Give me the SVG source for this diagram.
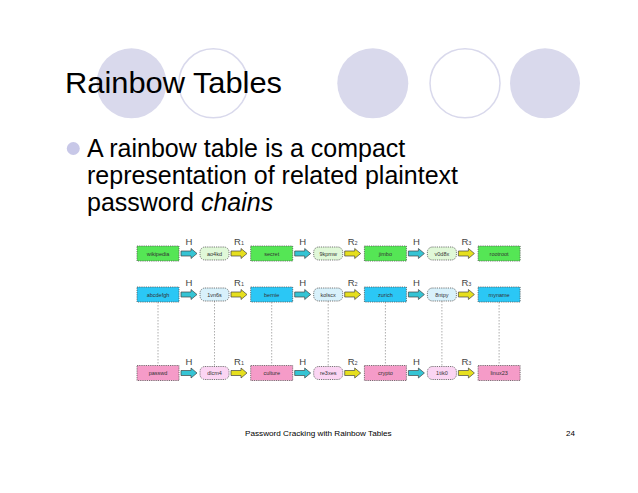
<svg xmlns="http://www.w3.org/2000/svg" xmlns:xlink="http://www.w3.org/1999/xlink" width="638" height="493" viewBox="0 0 638 493">
<style>
.deco{fill:#d9d9ec}
.decoO{fill:none;stroke:#d9d9ec;stroke-width:1.5}
.title{font-family:"Liberation Sans",Arial,sans-serif;font-size:29.5px;fill:#000}
.body{font-family:"Liberation Sans",Arial,sans-serif;font-size:25px;fill:#000}
.foot{font-family:"Liberation Sans",Arial,sans-serif;font-size:8px;fill:#000}
.box{stroke:#555;stroke-width:0.8;stroke-dasharray:1.2 1}
.g{fill:#55e655}.gl{fill:#e0f8d8}
.c{fill:#2bc7f5}.cl{fill:#d8f1fb}
.p{fill:#f59bc8}.pl{fill:#fbd5f3}
.bt{font-family:"Liberation Sans",Arial,sans-serif;font-size:5.5px;fill:#333;text-anchor:middle}
.lb{font-family:"Liberation Sans",Arial,sans-serif;font-size:9.5px;fill:#444;text-anchor:middle}
.sub{font-size:5.5px}
.ac{fill:#35c4d4;stroke:#444;stroke-width:0.7}
.ay{fill:#e6df1e;stroke:#444;stroke-width:0.7}
.dl{stroke:#999;stroke-width:0.8;stroke-dasharray:1.5 1.5;fill:none}
</style>
<defs>
<path id="arr" d="M0,-2.5 H10 V-5 L16,0 L10,5 V2.5 H0 Z"/>
</defs>
<rect width="638" height="493" fill="#fff"/>
<g id="decoration">
<ellipse class="deco" cx="131.5" cy="83.3" rx="35" ry="35"/>
<ellipse class="decoO" cx="213.3" cy="83.3" rx="34.5" ry="34.5"/>
<ellipse class="deco" cx="372.8" cy="83.3" rx="35.5" ry="35"/>
<ellipse class="decoO" cx="465" cy="83.3" rx="35" ry="34.5"/>
<ellipse class="deco" cx="545" cy="83.3" rx="35" ry="35"/>
</g>
<g id="title"><text class="title" x="65" y="93" textLength="217" lengthAdjust="spacingAndGlyphs">Rainbow Tables</text></g>
<g id="bullet">
<circle cx="73.3" cy="148.5" r="6.5" fill="#c8c8e8"/>
<text class="body" x="87" y="157">A rainbow table is a compact</text>
<text class="body" x="87" y="184">representation of related plaintext</text>
<text class="body" x="87" y="211">password <tspan font-style="italic">chains</tspan></text>
</g>
<g id="connectors">
<line class="dl" x1="158" y1="302" x2="158" y2="365.5"/>
<line class="dl" x1="214.5" y1="301" x2="214.5" y2="366.5"/>
<line class="dl" x1="271.7" y1="302" x2="271.7" y2="365.5"/>
<line class="dl" x1="328.2" y1="301" x2="328.2" y2="366.5"/>
<line class="dl" x1="385.4" y1="302" x2="385.4" y2="365.5"/>
<line class="dl" x1="441.9" y1="301" x2="441.9" y2="366.5"/>
<line class="dl" x1="499.1" y1="302" x2="499.1" y2="365.5"/>
<use href="#arr" class="ac" x="181" y="253.5"/>
<use href="#arr" class="ay" x="231" y="253.5"/>
<use href="#arr" class="ac" x="294.7" y="253.5"/>
<use href="#arr" class="ay" x="344.7" y="253.5"/>
<use href="#arr" class="ac" x="408.4" y="253.5"/>
<use href="#arr" class="ay" x="458.4" y="253.5"/>
<use href="#arr" class="ac" x="181" y="294.5"/>
<use href="#arr" class="ay" x="231" y="294.5"/>
<use href="#arr" class="ac" x="294.7" y="294.5"/>
<use href="#arr" class="ay" x="344.7" y="294.5"/>
<use href="#arr" class="ac" x="408.4" y="294.5"/>
<use href="#arr" class="ay" x="458.4" y="294.5"/>
<use href="#arr" class="ac" x="181" y="373"/>
<use href="#arr" class="ay" x="231" y="373"/>
<use href="#arr" class="ac" x="294.7" y="373"/>
<use href="#arr" class="ay" x="344.7" y="373"/>
<use href="#arr" class="ac" x="408.4" y="373"/>
<use href="#arr" class="ay" x="458.4" y="373"/>
<text class="lb" x="189" y="245">H</text>
<text class="lb" x="239" y="245">R<tspan class="sub">1</tspan></text>
<text class="lb" x="302.7" y="245">H</text>
<text class="lb" x="352.7" y="245">R<tspan class="sub">2</tspan></text>
<text class="lb" x="416.4" y="245">H</text>
<text class="lb" x="466.4" y="245">R<tspan class="sub">3</tspan></text>
<text class="lb" x="189" y="285.5">H</text>
<text class="lb" x="239" y="285.5">R<tspan class="sub">1</tspan></text>
<text class="lb" x="302.7" y="285.5">H</text>
<text class="lb" x="352.7" y="285.5">R<tspan class="sub">2</tspan></text>
<text class="lb" x="416.4" y="285.5">H</text>
<text class="lb" x="466.4" y="285.5">R<tspan class="sub">3</tspan></text>
<text class="lb" x="189" y="364.5">H</text>
<text class="lb" x="239" y="364.5">R<tspan class="sub">1</tspan></text>
<text class="lb" x="302.7" y="364.5">H</text>
<text class="lb" x="352.7" y="364.5">R<tspan class="sub">2</tspan></text>
<text class="lb" x="416.4" y="364.5">H</text>
<text class="lb" x="466.4" y="364.5">R<tspan class="sub">3</tspan></text>
</g>
<g id="row1">
<g id="n-wikipedia"><rect class="box g" x="137" y="246" width="42" height="15"/><text class="bt" x="158" y="255.5">wikipedia</text></g>
<g id="n-ao4kd"><rect class="box gl" x="200" y="247" width="29" height="13" rx="5"/><text class="bt" x="214.5" y="255.5">ao4kd</text></g>
<g id="n-secret"><rect class="box g" x="250.7" y="246" width="42" height="15"/><text class="bt" x="271.7" y="255.5">secret</text></g>
<g id="n-9kpmw"><rect class="box gl" x="313.7" y="247" width="29" height="13" rx="5"/><text class="bt" x="328.2" y="255.5">9kpmw</text></g>
<g id="n-jimbo"><rect class="box g" x="364.4" y="246" width="42" height="15"/><text class="bt" x="385.4" y="255.5">jimbo</text></g>
<g id="n-v0d8x"><rect class="box gl" x="427.4" y="247" width="29" height="13" rx="5"/><text class="bt" x="441.9" y="255.5">v0d8x</text></g>
<g id="n-rootroot"><rect class="box g" x="478.1" y="246" width="42" height="15"/><text class="bt" x="499.1" y="255.5">rootroot</text></g>
</g>
<g id="row2">
<g id="n-abcdefgh"><rect class="box c" x="137" y="287" width="42" height="15"/><text class="bt" x="158" y="296.5">abcdefgh</text></g>
<g id="n-1vn6s"><rect class="box cl" x="200" y="288" width="29" height="13" rx="5"/><text class="bt" x="214.5" y="296.5">1vn6s</text></g>
<g id="n-bernie"><rect class="box c" x="250.7" y="287" width="42" height="15"/><text class="bt" x="271.7" y="296.5">bernie</text></g>
<g id="n-kolscx"><rect class="box cl" x="313.7" y="288" width="29" height="13" rx="5"/><text class="bt" x="328.2" y="296.5">kolscx</text></g>
<g id="n-zurich"><rect class="box c" x="364.4" y="287" width="42" height="15"/><text class="bt" x="385.4" y="296.5">zurich</text></g>
<g id="n-8ntpy"><rect class="box cl" x="427.4" y="288" width="29" height="13" rx="5"/><text class="bt" x="441.9" y="296.5">8ntpy</text></g>
<g id="n-myname"><rect class="box c" x="478.1" y="287" width="42" height="15"/><text class="bt" x="499.1" y="296.5">myname</text></g>
</g>
<g id="row3">
<g id="n-passwd"><rect class="box p" x="137" y="365.5" width="42" height="15"/><text class="bt" x="158" y="375">passwd</text></g>
<g id="n-dlcm4"><rect class="box pl" x="200" y="366.5" width="29" height="13" rx="5"/><text class="bt" x="214.5" y="375">dlcm4</text></g>
<g id="n-culture"><rect class="box p" x="250.7" y="365.5" width="42" height="15"/><text class="bt" x="271.7" y="375">culture</text></g>
<g id="n-re3xes"><rect class="box pl" x="313.7" y="366.5" width="29" height="13" rx="5"/><text class="bt" x="328.2" y="375">re3xes</text></g>
<g id="n-crypto"><rect class="box p" x="364.4" y="365.5" width="42" height="15"/><text class="bt" x="385.4" y="375">crypto</text></g>
<g id="n-1tik0"><rect class="box pl" x="427.4" y="366.5" width="29" height="13" rx="5"/><text class="bt" x="441.9" y="375">1tik0</text></g>
<g id="n-linux23"><rect class="box p" x="478.1" y="365.5" width="42" height="15"/><text class="bt" x="499.1" y="375">linux23</text></g>
</g>
<g id="footer">
<text class="foot" x="245" y="435.5" textLength="146.7" lengthAdjust="spacingAndGlyphs">Password Cracking with Rainbow Tables</text>
<text class="foot" x="575" y="435.5" text-anchor="end">24</text>
</g>
</svg>
